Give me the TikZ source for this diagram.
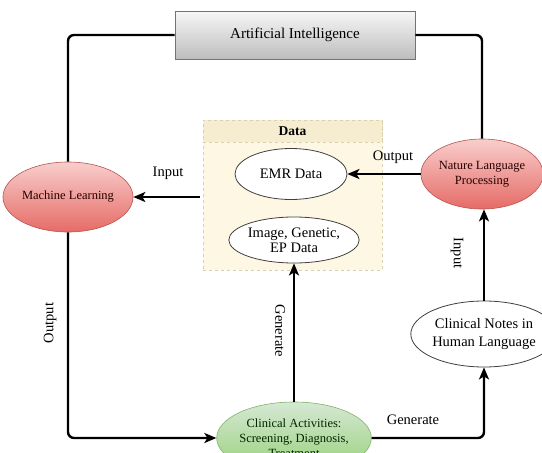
\documentclass[tikz,border=0pt]{standalone}
\usepackage{fontspec}
\setmainfont{Liberation Serif}
\usetikzlibrary{shapes.geometric,arrows.meta,positioning}
\definecolor{redtop}{HTML}{F8CECC}
\definecolor{redbot}{HTML}{E66B66}
\definecolor{redline}{HTML}{B85450}
\definecolor{grntop}{HTML}{D5E8D4}
\definecolor{grnbot}{HTML}{97D077}
\definecolor{grnline}{HTML}{82B366}
\definecolor{aitop}{HTML}{F7F7F7}
\definecolor{aibot}{HTML}{BDBDBD}
\definecolor{databody}{HTML}{FDF7E4}
\definecolor{datahead}{HTML}{F6EDD0}
\definecolor{dataline}{HTML}{D9D0AE}
\tikzset{
  conn/.style={line width=2.4pt, rounded corners=6pt},
  arr/.style={conn, -{Stealth[length=12pt,width=10pt,inset=3pt]}},
  redell/.style={ellipse, draw=redline, line width=0.6pt, top color=redtop, bottom color=redbot,
     inner sep=0pt, align=center, text=black!85!red, font=\fontsize{12.5}{15}\selectfont},
  whiteell/.style={ellipse, draw=black!75, line width=0.8pt, fill=white,
     inner sep=0pt, align=center, font=\fontsize{14.5}{16}\selectfont},
  lbl/.style={inner sep=0pt, font=\fontsize{14.5}{16}\selectfont},
}
\begin{document}
\begin{tikzpicture}[x=1pt,y=-1pt]
\useasboundingbox (0,0) rectangle (542,453);
\clip (0,0) rectangle (542,453);
\fill[white] (0,0) rectangle (542,453);

% Artificial Intelligence box
\node[draw=black!55, line width=0.7pt, top color=aitop, bottom color=aibot,
      minimum width=240pt, minimum height=48pt, inner sep=0pt,
      font=\fontsize{15}{17}\selectfont] (ai) at (295,35) {Artificial Intelligence};

% Data container
\node[draw=dataline, dashed, line width=0.6pt, fill=databody,
      minimum width=179pt, minimum height=150pt, inner sep=0pt] (data) at (292.5,195) {};
\node[draw=dataline, dashed, line width=0.6pt, fill=datahead, anchor=north,
      minimum width=179pt, minimum height=22pt, inner sep=0pt,
      font=\bfseries\fontsize{13.5}{15}\selectfont] (datahd) at (data.north) {Data};

\node[whiteell, minimum width=112pt, minimum height=51pt] (emr) at (291,174) {EMR Data};
\node[whiteell, minimum width=114pt, minimum height=46pt, font=\fontsize{14.5}{15}\selectfont] (img) at (294,240) {Image, Genetic,\\EP Data};

% Red ellipses
\node[redell, minimum width=120pt, minimum height=70pt] (ml) at (68,197) {Machine Learning};
\node[redell, minimum width=118pt, minimum height=70pt] (nlp) at (482,174) {Nature Language\\Processing};

% Clinical notes
\node[whiteell, minimum width=112pt, minimum height=66pt, font=\fontsize{14.5}{17.5}\selectfont] (cn) at (484,334) {Clinical Notes in\\Human Language};

% Clinical activities
\node[ellipse, draw=grnline, line width=0.6pt, top color=grntop, bottom color=grnbot,
      minimum width=122pt, minimum height=72pt, inner sep=0pt, align=center,
      text=black!85!green, font=\fontsize{12.5}{15}\selectfont] (ca) at (294,438)
      {Clinical Activities:\\Screening, Diagnosis,\\Treatment};

% Connectors
\draw[conn] (ai.west) -| (ml.north);
\draw[conn] (ai.east) -| (nlp.north);
\coordinate (din) at (data.west |- ml.east);
\draw[arr] ([xshift=-3pt]din) -- (ml.east);
\draw[arr] (nlp.west) -- (emr.east);
\draw[arr] (ml.south) |- (ca.west);
\draw[arr] (ca.north) -- (img.south);
\draw[arr] (ca.east) -| (cn.south);
\draw[arr] (cn.north) -- (cn.north |- nlp.south);

% Labels
\node[lbl] (l1) at (168,173) {Input};
\node[lbl] (l2) at (393,157) {Output};
\node[lbl, rotate=-90] (l3) at (457,253) {Input};
\node[lbl, rotate=90] (l4) at (50,323) {Output};
\node[lbl, rotate=-90] (l5) at (280,331) {Generate};
\node[lbl] (l6) at (413,420) {Generate};
\end{tikzpicture}
\end{document}
